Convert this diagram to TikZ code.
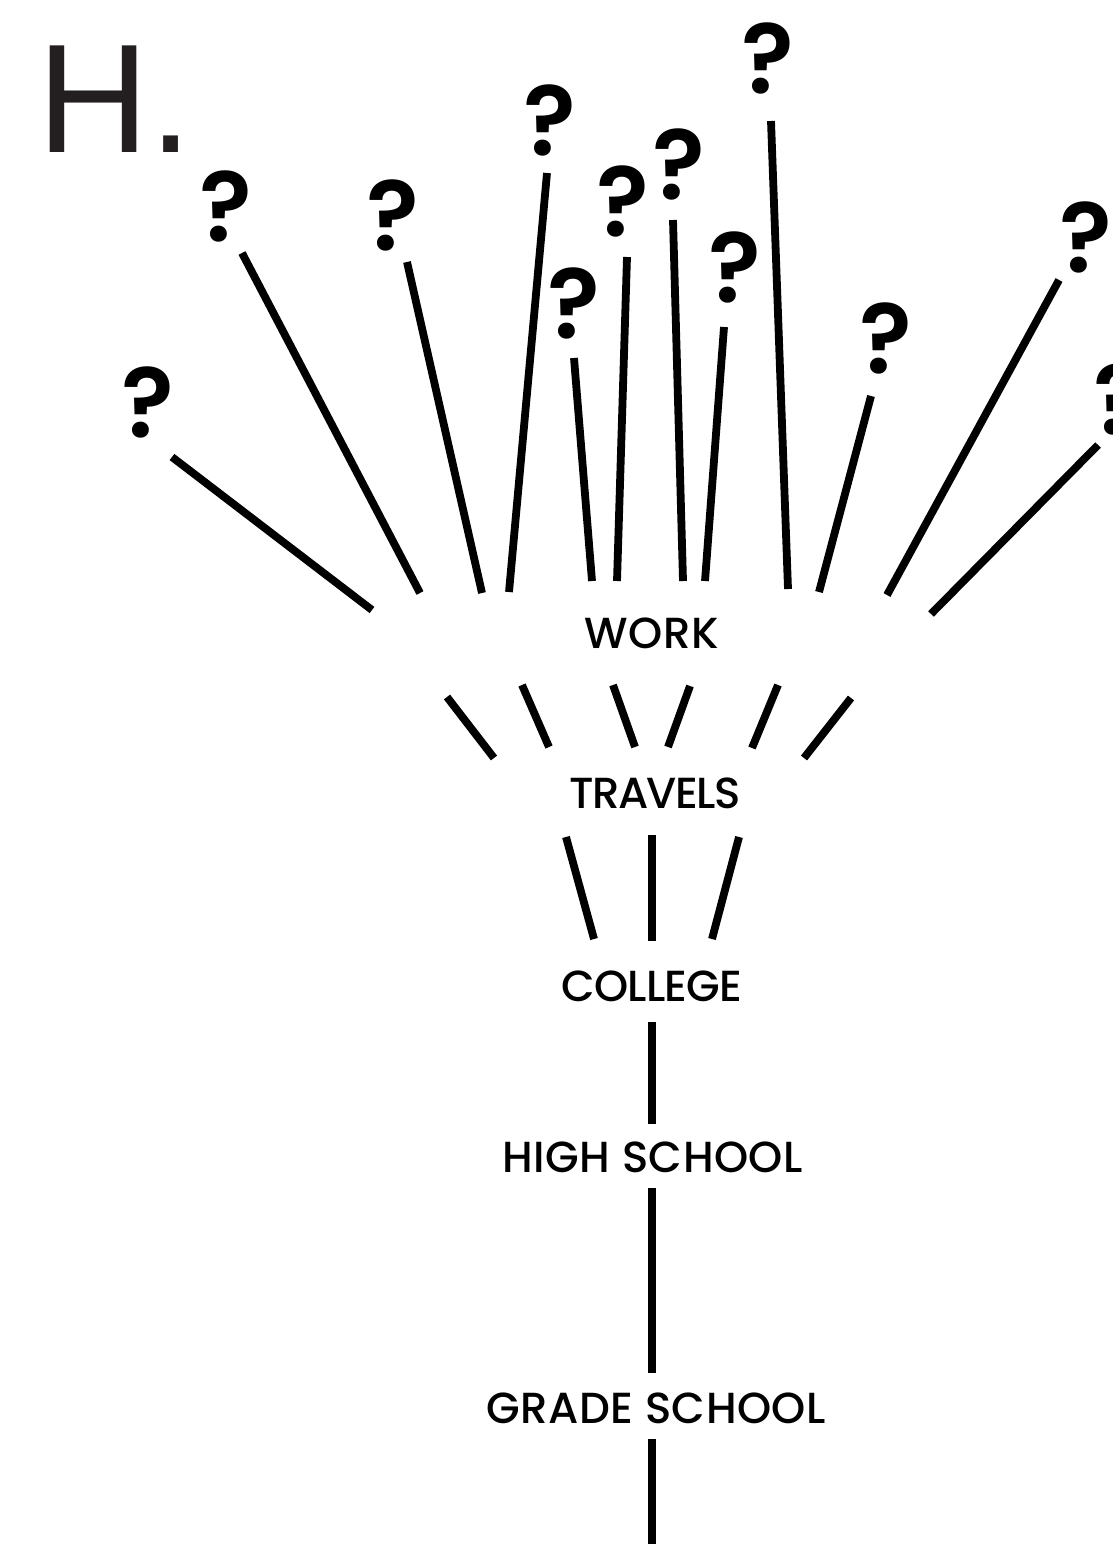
\documentclass[tikz,border=0pt]{standalone}
\usepackage{fontspec}
\setmainfont{Poppins}
\IfFontExistsTF{Poppins Medium}
  {\newfontfamily\labelfont{Poppins Medium}[LetterSpace=1.2]}
  {\newfontfamily\labelfont{Poppins}[LetterSpace=1.2,FakeBold=0.4]}
\IfFontExistsTF{Poppins SemiBold}
  {\newfontfamily\qfont{Poppins SemiBold}}
  {\newfontfamily\qfont{Poppins}[UprightFont=*,FakeBold=1.5]}
\newfontfamily\hfont{Liberation Sans}
\definecolor{hgray}{HTML}{231F20}
\tikzset{
  stem/.style={line width=7.8pt, line cap=butt, draw=black},
  lbl/.style={font=\labelfont\fontsize{43.5}{50}\selectfont, inner sep=0pt, anchor=base, text=black},
  qm/.style={font=\qfont\fontsize{98}{110}\selectfont, inner sep=0pt, anchor=base, text=black}
}
\begin{document}
\begin{tikzpicture}[x=1pt,y=-1pt]
\useasboundingbox[fill=white] (0,0) rectangle (1113,1544);
\clip (0,0) rectangle (1113,1544);
% title
\node[font=\hfont\fontsize{155}{160}\selectfont, text=hgray, inner sep=0pt, anchor=base west] (title) at (37,153) {H.};
% labels
\node[lbl] (work) at (651.5,648) {WORK};
\node[lbl] (travels) at (655,808) {\addfontfeature{LetterSpace=-4}TRAVELS};
\node[lbl] (college) at (652,1001) {\addfontfeature{LetterSpace=-2}COLLEGE};
\node[lbl] (high) at (652.5,1172) {HIGH SCHOOL};
\node[lbl] (grade) at (656,1423) {GRADE SCHOOL};
% question marks
\node[qm] (q1) at (147.5,437) {?};
\node[qm] (q2) at (225.5,241) {?};
\node[qm] (q3) at (392.5,250) {?};
\node[qm] (q4) at (550,155) {?};
\node[qm] (q5) at (573.5,338) {?};
\node[qm] (q6) at (622.5,236) {?};
\node[qm] (q7) at (678.5,199) {?};
\node[qm] (q8) at (734.5,302) {?};
\node[qm] (q9) at (767.5,94) {?};
\node[qm] (q10) at (886,373) {?};
\node[qm] (q11) at (1085.5,272) {?};
\node[qm] (q12) at (1119.5,434) {?};
% line ends: question marks -> work
\coordinate (t1) at (172,457);  \coordinate (b1) at (372,610);
\coordinate (t2) at (242,253);  \coordinate (b2) at (420,593);
\coordinate (t3) at (407,262);  \coordinate (b3) at (482,593);
\coordinate (t4) at (547,173);  \coordinate (b4) at (509,592);
\coordinate (t5) at (574,358);  \coordinate (b5) at (592,581);
\coordinate (t6) at (627,257);  \coordinate (b6) at (617,581);
\coordinate (t7) at (673,220);  \coordinate (b7) at (683,581);
\coordinate (t8) at (724,327);  \coordinate (b8) at (705,581);
\coordinate (t9) at (771,121);  \coordinate (b9) at (788,589);
\coordinate (t10) at (871,396); \coordinate (b10) at (819,592);
\coordinate (t11) at (1059,280); \coordinate (b11) at (887,595);
\coordinate (t12) at (1098,445); \coordinate (b12) at (931,614);
\foreach \i in {1,...,12} { \draw[stem] (t\i) -- (b\i); }
% work -> travels
\coordinate (ma1) at (447,697); \coordinate (mb1) at (494,758);
\coordinate (ma2) at (522,685); \coordinate (mb2) at (549,747);
\coordinate (ma3) at (613,685); \coordinate (mb3) at (635,747);
\coordinate (ma4) at (690,686); \coordinate (mb4) at (668,747);
\coordinate (ma5) at (778,685); \coordinate (mb5) at (752,748);
\coordinate (ma6) at (851,698); \coordinate (mb6) at (804,758);
\foreach \i in {1,...,6} { \draw[stem] (ma\i) -- (mb\i); }
% travels -> college
\coordinate (la1) at (566,837); \coordinate (lb1) at (594,939);
\coordinate (la2) at (652,835); \coordinate (lb2) at (652,941);
\coordinate (la3) at (739,837); \coordinate (lb3) at (712,939);
\foreach \i in {1,2,3} { \draw[stem] (la\i) -- (lb\i); }
% trunk
\coordinate (v1a) at (652,1022); \coordinate (v1b) at (652,1124);
\coordinate (v2a) at (652,1188); \coordinate (v2b) at (652,1373);
\coordinate (v3a) at (652,1439); \coordinate (v3b) at (652,1544);
\draw[stem] (v1a) -- (v1b);
\draw[stem] (v2a) -- (v2b);
\draw[stem] (v3a) -- (v3b);
\end{tikzpicture}
\end{document}
